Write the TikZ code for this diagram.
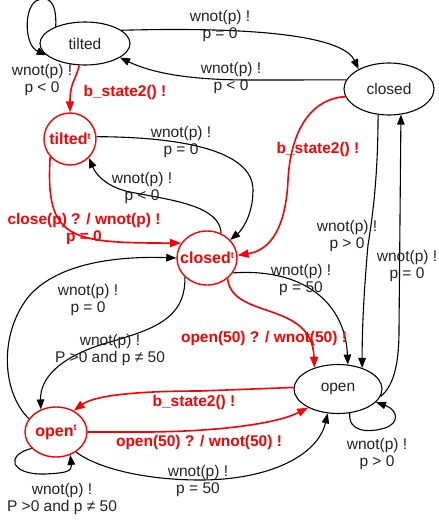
\documentclass[tikz,border=0pt]{standalone}
\usepackage{fontspec}
\setmainfont{Liberation Sans}
\usetikzlibrary{arrows.meta,shapes.geometric}
\definecolor{ink}{HTML}{222222}
\definecolor{hot}{HTML}{FF0000}
\newcommand{\supt}{\raisebox{5.5pt}{\fontsize{9}{9}\selectfont t}}
\begin{document}
\begin{tikzpicture}[x=1pt,y=-1pt,
  font=\fontsize{15.5}{17.5}\selectfont,
  st/.style={ellipse,draw=black,line width=1.1pt,inner sep=0pt},
  stt/.style={ellipse,draw=hot,line width=1.4pt,inner sep=0pt},
  ntxt/.style={inner sep=0pt,text=ink},
  rtxt/.style={inner sep=0pt,text=hot,font=\fontsize{16}{18}\selectfont\bfseries},
  lbl/.style={align=center,text=ink,inner sep=0pt},
  rlbl/.style={align=center,text=hot,inner sep=0pt,font=\fontsize{15.5}{17.5}\selectfont\bfseries},
  tr/.style={draw=black,line width=1.1pt,-{Triangle[length=10pt,width=7.5pt]}},
  rtr/.style={draw=hot,line width=1.6pt,-{Triangle[length=11pt,width=8pt]}},
]
\useasboundingbox (0,0) rectangle (439,520);

% states
\node[st,minimum width=90pt,minimum height=43pt] (tilted) at (85,43.5) {};
\node[ntxt] (tilted-txt) at (tilted) {tilted};
\node[st,minimum width=90pt,minimum height=52pt] (closed) at (389,89) {};
\node[ntxt] (closed-txt) at (closed) {closed};
\node[st,minimum width=88pt,minimum height=49pt] (open) at (338,389) {};
\node[ntxt] (open-txt) at (open) {open};
\node[stt,minimum width=52pt,minimum height=52pt] (tiltedt) at (70,139) {};
\node[rtxt] (tiltedt-txt) at (tiltedt) {tilted\supt};
\node[stt,minimum width=60pt,minimum height=54pt] (closedt) at (207,258) {};
\node[rtxt] (closedt-txt) at (closedt) {closed\supt};
\node[stt,minimum width=62pt,minimum height=50pt] (opent) at (56,432) {};
\node[rtxt] (opent-txt) at (opent) {open\supt};

% black transitions
\draw[tr] (tilted.150) .. controls (57,0) and (47,-5) .. (36,1) .. controls (24,8) and (24,45) .. (tilted.197);
\draw[tr] (tilted.20) .. controls (280,26) and (345,40) .. (closed.147);
\draw[tr] (closed.168) -- (250,80) .. controls (185,80) and (150,72) .. (tilted.-22);
\draw[tr] (tiltedt.5) .. controls (180,137) and (253,150) .. (253,190) .. controls (253,215) and (242,230) .. (closedt.38);
\draw[tr] (closedt.60) .. controls (220,205) and (170,200) .. (130,192) .. controls (110,188) and (97,177) .. (tiltedt.-45);
\draw[tr] (closed.247) .. controls (378,180) and (372,220) .. (368,245) .. controls (364,290) and (362,330) .. (open.41);
\draw[tr] (open.-10) .. controls (395,385) and (399,360) .. (399,330) -- (closed.-65);
\draw[tr] (closedt.-30) .. controls (300,268) and (345,300) .. (open.68);
\draw[tr] (opent.-45) .. controls (100,470) and (150,480) .. (200,480) .. controls (270,480) and (318,455) .. (open.247);
\draw[tr] (opent.214) .. controls (5,455) and (10,475) .. (45,474) .. controls (65,473) and (72,472) .. (opent.-58);
\draw[tr] (open.-64) .. controls (348,432) and (368,433) .. (385,428) .. controls (400,423) and (398,410) .. (open.-19);
\draw[tr] (opent.154) .. controls (0,390) and (0,330) .. (30,295) .. controls (60,262) and (120,256) .. (closedt.west);
\draw[tr] (closedt.221) .. controls (186,320) and (150,330) .. (110,342) .. controls (60,356) and (40,378) .. (opent.124);

% red transitions
\draw[rtr] (tilted.255) .. controls (76,80) and (70,82) .. (tiltedt.north);
\draw[rtr] (tiltedt.222) .. controls (45,240) and (70,243) .. (closedt.150);
\draw[rtr] (closed.190) .. controls (315,98) and (291,125) .. (288,180) .. controls (286,225) and (272,250) .. (closedt.5);
\draw[rtr] (closedt.-45) .. controls (232,320) and (312,300) .. (open.138);
\draw[rtr] (open.178) -- (200,391) .. controls (140,391) and (95,395) .. (opent.50);
\draw[rtr] (opent.east) -- (150,432) .. controls (230,431) and (280,422) .. (open.212);

% labels
\node[lbl] (l1) at (220,26) {wnot(p) !\\p = 0};
\node[lbl] (l2) at (231,78) {wnot(p) !\\p < 0};
\node[lbl] (l3) at (42,80) {wnot(p) !\\p < 0};
\node[rlbl] (l4) at (125,92) {b\_state2() !};
\node[lbl] (l5) at (181,142) {wnot(p) !\\p = 0};
\node[lbl] (l6) at (142,188) {wnot(p) !\\p < 0};
\node[rlbl] (l7) at (84,229) {close(p) ? / wnot(p) !\\p = 0};
\node[rlbl] (l8) at (318,149) {b\_state2() !};
\node[lbl] (l9) at (347,236) {wnot(p) !\\p > 0};
\node[lbl] (l10) at (407,266) {wnot(p) !\\p = 0};
\node[lbl] (l11) at (301,280) {wnot(p) !\\p = 50};
\node[rlbl] (l12) at (264,338) {open(50) ? / wnot(50) !};
\node[lbl] (l13) at (88,300) {wnot(p) !\\p = 0};
\node[lbl] (l14) at (110,350) {wnot(p) !\\P >0 and p ≠ 50};
\node[rlbl] (l15) at (194,402) {b\_state2() !};
\node[rlbl] (l16) at (199,442) {open(50) ? / wnot(50) !};
\node[lbl] (l17) at (377,454) {wnot(p) !\\p > 0};
\node[lbl] (l18) at (198,481) {wnot(p) !\\p = 50};
\node[lbl] (l19) at (62,499) {wnot(p) !\\P >0 and p ≠ 50};
\end{tikzpicture}
\end{document}
